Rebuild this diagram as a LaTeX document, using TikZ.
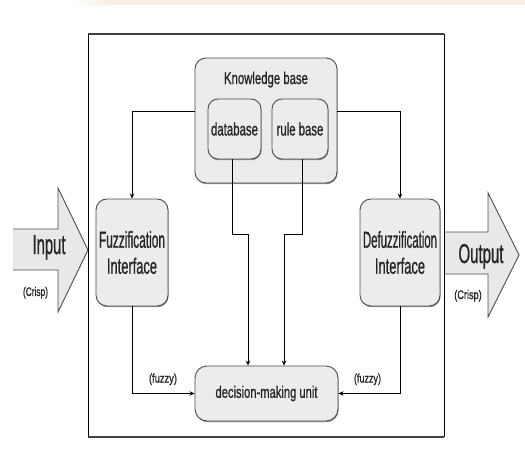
\documentclass[tikz,border=0pt]{standalone}
\usepackage{fontspec}
\setmainfont{Liberation Sans}
\newfontfamily\labfont[FakeBold=1.2]{Liberation Sans}
\usepackage{graphicx}
\usetikzlibrary{shadows,arrows.meta}
\newcommand{\fitt}[3]{\resizebox{#1pt}{#2pt}{#3}}
\definecolor{boxfill}{RGB}{236,236,236}
\definecolor{arrfill}{RGB}{232,232,232}
\definecolor{tan}{RGB}{246,240,228}
\begin{document}
\begin{tikzpicture}[x=1pt,y=-1pt,
  box/.style={draw=black!70, line width=0.9pt, fill=boxfill, rounded corners=11pt,
    inner sep=0pt, align=center, text=black!85, font=\labfont\fontsize{12}{26}\selectfont,
    drop shadow={shadow xshift=0.6pt, shadow yshift=-1.2pt, fill=black!45, opacity=1}},
  lbl/.style={inner sep=0pt, text=black!85, font=\labfont\fontsize{12}{14}\selectfont},
  conn/.style={draw=black, line width=0.8pt, -{Stealth[length=5pt,width=4.5pt]}},
  arrline/.style={draw=black!70, line width=0.9pt, line join=miter}]
\useasboundingbox (0,0) rectangle (525,463);
% faded background stripe at top
\shade[left color=white, right color=tan] (70,0) rectangle (110,5);
\fill[tan] (110,0) rectangle (525,5);

% block arrows
\fill[arrfill] (13,229) -- (58,229) -- (58,188) -- (88,250) -- (58,312) -- (58,270) -- (13,270) -- cycle;
\draw[arrline] (13,229) -- (58,229) -- (58,188) -- (88,250) -- (58,312) -- (58,270) -- (13,270);
\fill[arrfill] (444,232) -- (488,232) -- (488,193) -- (519,255) -- (488,317) -- (488,274) -- (444,274) -- cycle;
\draw[arrline] (444,232) -- (488,232) -- (488,193) -- (519,255) -- (488,317) -- (488,274) -- (444,274);

% frame
\draw[black, line width=1pt] (88,34) -- (88,437);
\draw[black, line width=1pt] (444,34) -- (444,437);
\draw[black!75, line width=1.6pt] (88,34) -- (444,34);
\draw[black!75, line width=1.6pt] (88,437) -- (444,437);

% boxes
\node[box, minimum width=142pt, minimum height=125pt] (kb) at (266,120.5) {};
\node[lbl, anchor=base] (kbt) at (266,84) {\fitt{84}{12.3}{Knowledge base}};
\node[box, rounded corners=10pt, minimum width=53pt, minimum height=60pt] (db) at (234.5,129) {\fitt{47}{13}{database}};
\node[box, rounded corners=10pt, minimum width=56pt, minimum height=60pt] (rb) at (300,129) {\fitt{46.7}{13}{rule base}};
\node[box, minimum width=72pt, minimum height=107pt] (fuzz) at (132,252.5) {\fitt{66}{16.7}{Fuzzification}\\\fitt{50}{16}{Interface}};
\node[box, minimum width=80pt, minimum height=107pt] (defuzz) at (400,252.5) {\fitt{74}{16.7}{Defuzzification}\\\fitt{50}{16}{Interface}};
\node[box, rounded corners=12pt, minimum width=143pt, minimum height=55pt] (dmu) at (266.5,393.5) {\fitt{102}{12}{decision-making unit}};

% connectors
\draw[conn] (kb.west |- 0,111) -| (fuzz.north);
\draw[conn] (kb.east |- 0,111) -| (defuzz.north);
\draw[conn] (db.south -| 232,0) |- (248,234) -- (248,0 |- dmu.north);
\draw[conn] (rb.south -| 302,0) |- (284,234) -- (284,0 |- dmu.north);
\draw[conn] (fuzz.south) |- (dmu.west);
\draw[conn] (defuzz.south) |- (dmu.east);

% labels
\node[lbl, anchor=base] (inp) at (49,254) {\fitt{33}{19}{Input}};
\node[lbl, anchor=base] (crl) at (35.5,296) {\fitt{25}{9}{(Crisp)}};
\node[lbl, anchor=base] (outp) at (481,263) {\fitt{45}{19}{Output}};
\node[lbl, anchor=base] (crr) at (468,299) {\fitt{27.5}{9}{(Crisp)}};
\node[lbl, anchor=base] (fzl) at (163,382.5) {\fitt{28}{9}{(fuzzy)}};
\node[lbl, anchor=base] (fzr) at (367.5,382.5) {\fitt{27}{9}{(fuzzy)}};
\end{tikzpicture}
\end{document}
